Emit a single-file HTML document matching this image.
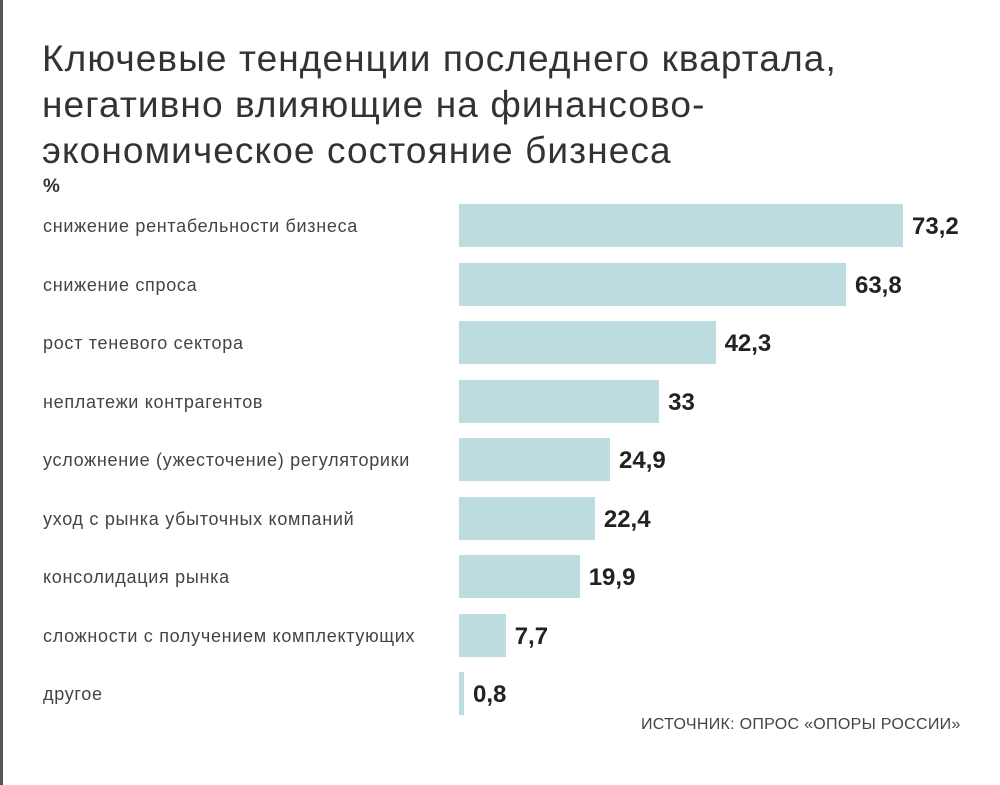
<!DOCTYPE html>
<html><head><meta charset="utf-8"><style>
body{margin:0;width:1000px;height:785px;background:#fff;overflow:hidden;position:relative;font-family:"Liberation Sans",sans-serif}
#border{position:absolute;left:0;top:0;width:3px;height:785px;background:#555}
#title{position:absolute;left:42px;top:36px;font-size:37px;line-height:46px;color:#333;font-weight:normal;margin:0;letter-spacing:1.1px}
#unit{position:absolute;left:43px;top:176px;font-size:19px;font-weight:bold;color:#333}
.lbl{position:absolute;left:43px;font-size:18px;color:#444;line-height:20px;letter-spacing:0.7px}
.bar{position:absolute;background:#bcdce0}
.val{position:absolute;font-size:24px;font-weight:bold;color:#222;line-height:26px}
#src{position:absolute;left:641px;top:716px;font-size:16px;color:#444;letter-spacing:0.3px}
</style></head><body>
<div id="border"></div>
<h1 id="title">Ключевые тенденции последнего квартала,<br>негативно влияющие на финансово-<br>экономическое состояние бизнеса</h1>
<div id="unit">%</div>
<div id="chart"></div>
<div id="src">ИСТОЧНИК: ОПРОС «ОПОРЫ РОССИИ»</div>
<script>
const categories=["снижение рентабельности бизнеса","снижение спроса","рост теневого сектора","неплатежи контрагентов","усложнение (ужесточение) регуляторики","уход с рынка убыточных компаний","консолидация рынка","сложности с получением комплектующих","другое"];
const values=[73.2,63.8,42.3,33,24.9,22.4,19.9,7.7,0.8];
const valueLabels=["73,2","63,8","42,3","33","24,9","22,4","19,9","7,7","0,8"];
const x0=459,scale=444/73.2,y0=204,pitch=58.5,bh=43;
const c=document.getElementById('chart');
categories.forEach((cat,i)=>{
 const y=y0+i*pitch,w=values[i]*scale;
 const l=document.createElement('div');l.className='lbl';l.style.top=(y+12)+'px';l.textContent=cat;
 
 
 c.appendChild(l);
 const b=document.createElement('div');b.className='bar';b.style.left=x0+'px';b.style.top=y+'px';b.style.width=Math.max(w,5)+'px';b.style.height=bh+'px';
 
 
 c.appendChild(b);
 const v=document.createElement('div');v.className='val';v.style.left=(x0+Math.max(w,5)+9)+'px';v.style.top=(y+10)+'px';v.textContent=valueLabels[i];
 
 
 c.appendChild(v);
});
</script>
</body></html>
